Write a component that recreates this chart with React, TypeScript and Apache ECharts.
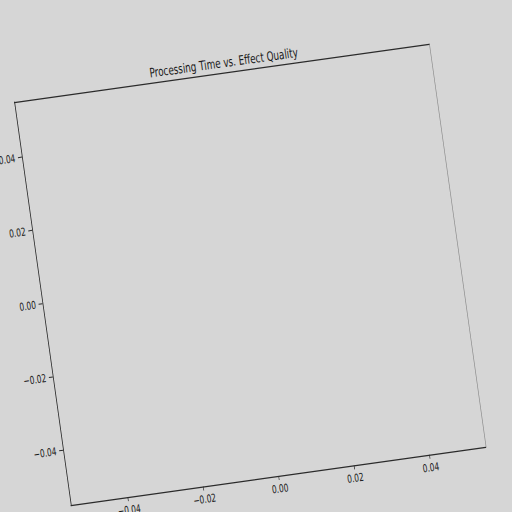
import React, { useEffect, useRef } from 'react';
import * as echarts from 'echarts';

const chartTitle = 'Processing Time vs. Effect Quality';
const xRange = [-0.055, 0.055];
const yRange = [-0.055, 0.055];
const xTicks = [-0.04, -0.02, 0.0, 0.02, 0.04];
const yTicks = [-0.04, -0.02, 0.0, 0.02, 0.04];
const emptyPoints: number[][] = [];

const fmt = (v: number) => {
  const s = Math.abs(v).toFixed(2);
  return v < -1e-9 ? '\u2212' + s : s;
};

const App: React.FC = () => {
  const chartRef = useRef<HTMLDivElement>(null);

  useEffect(() => {
    if (!chartRef.current) return;
    const chart = echarts.init(chartRef.current, undefined, { renderer: 'svg' });

    const font = 'DejaVu Sans';
    const dark = '#2b2b2b';

    const option: echarts.EChartsOption = {
      animation: false,
      backgroundColor: 'transparent',
      title: {
        text: chartTitle,
        left: 388,
        textAlign: 'center',
        top: 50,
        textStyle: { fontFamily: font, fontSize: 13, fontWeight: 'normal', color: '#1a1a1a' },
      },
      grid: { left: 80, top: 71, width: 616, height: 407 },
      xAxis: [
        {
          type: 'value',
          min: xRange[0],
          max: xRange[1],
          position: 'bottom',
          axisLine: { show: true, onZero: false, lineStyle: { color: dark, width: 1.2 } },
          axisTick: { show: true, length: 4, customValues: xTicks, lineStyle: { color: dark } },
          axisLabel: {
            customValues: xTicks,
            formatter: (v: number) => fmt(v),
            margin: 7,
            fontFamily: font,
            fontSize: 11,
            color: '#1a1a1a',
          },
          splitLine: { show: false },
        },
        {
          type: 'value',
          min: xRange[0],
          max: xRange[1],
          position: 'top',
          axisLine: { show: true, onZero: false, lineStyle: { color: dark, width: 1.2 } },
          axisTick: { show: false },
          axisLabel: { show: false },
          splitLine: { show: false },
        },
      ],
      yAxis: [
        {
          type: 'value',
          min: yRange[0],
          max: yRange[1],
          position: 'left',
          axisLine: { show: true, onZero: false, lineStyle: { color: dark, width: 1.2 } },
          axisTick: { show: true, length: 6, customValues: yTicks, lineStyle: { color: dark } },
          axisLabel: {
            customValues: yTicks,
            formatter: (v: number) => fmt(v),
            margin: 10,
            fontFamily: font,
            fontSize: 11,
            color: '#1a1a1a',
          },
          splitLine: { show: false },
        },
        {
          type: 'value',
          min: yRange[0],
          max: yRange[1],
          position: 'right',
          axisLine: { show: true, onZero: false, lineStyle: { color: '#8c8c8c', width: 1 } },
          axisTick: { show: false },
          axisLabel: { show: false },
          splitLine: { show: false },
        },
      ],
      series: [
        {
          type: 'scatter',
          data: emptyPoints,
        },
      ],
    };

    chart.setOption(option);

    return () => {
      chart.dispose();
    };
  }, []);

  return (
    <div
      style={{
        position: 'fixed',
        left: 0,
        top: 0,
        width: 512,
        height: 512,
        overflow: 'hidden',
        background: '#d6d6d6',
      }}
    >
      <div
        ref={chartRef}
        style={{
          position: 'absolute',
          left: -138.5,
          top: 0,
          width: 776,
          height: 512,
          transformOrigin: '388px 274.5px',
          transform: 'rotate(-8deg) scaleX(0.68)',
        }}
      />
    </div>
  );
};

export default App;
